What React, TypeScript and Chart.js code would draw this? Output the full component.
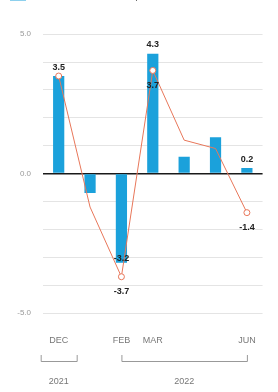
import React, { useEffect, useRef } from 'react';
import { Chart, registerables } from 'chart.js';

Chart.register(...registerables);

const categories = ['DEC', 'JAN', 'FEB', 'MAR', 'APR', 'MAY', 'JUN'];
const shownMonthLabels = ['DEC', 'FEB', 'MAR', 'JUN'];
const actualValues = [3.5, -0.7, -3.2, 4.3, 0.6, 1.3, 0.2];
const forecastValues = [3.5, -1.2, -3.7, 3.7, 1.2, 0.9, -1.4];
const markedPoints = [true, false, true, true, false, false, true];
const barLabels = ['3.5', null, '-3.2', '4.3', null, null, '0.2'];
const lineLabels = [null, null, '-3.7', '3.7', null, null, '-1.4'];
const yTickLabels: Record<string, string> = { '5': '5.0', '0': '0.0', '-5': '-5.0' };
const yearGroups = [
  { label: '2021', from: 0, to: 0 },
  { label: '2022', from: 2, to: 6 },
];
const legendLabels = ['Actual', 'Reuters poll forecast'];

const SHIFT = 20;
const BLUE = '#1ba1db';
const SALMON = '#e8775a';

const labelPlugin = {
  id: 'valueLabels',
  afterDatasetsDraw(chart: any) {
    const ctx = chart.ctx;
    ctx.save();
    ctx.font = 'bold 9px "Liberation Sans", Arial, sans-serif';
    ctx.fillStyle = '#222';
    ctx.textAlign = 'center';
    ctx.textBaseline = 'middle';
    const barMeta = chart.getDatasetMeta(0);
    barLabels.forEach((t, i) => {
      if (!t) return;
      const el = barMeta.data[i];
      const v = actualValues[i];
      const y = v >= 0 ? el.y - 9 : el.y - 4;
      ctx.fillText(t, el.x, y);
    });
    const lineMeta = chart.getDatasetMeta(1);
    lineLabels.forEach((t, i) => {
      if (!t) return;
      const el = lineMeta.data[i];
      ctx.fillText(t, el.x, el.y + 15);
    });
    ctx.restore();
  },
};

const yearPlugin = {
  id: 'yearBrackets',
  afterDraw(chart: any) {
    const ctx = chart.ctx;
    const xs = chart.scales.x;
    const base = 361 + SHIFT;
    ctx.save();
    ctx.strokeStyle = '#999';
    ctx.lineWidth = 1;
    ctx.fillStyle = '#777';
    ctx.font = '9px "Liberation Sans", Arial, sans-serif';
    ctx.textAlign = 'center';
    ctx.textBaseline = 'middle';
    yearGroups.forEach((g) => {
      let x0 = xs.getPixelForValue(g.from);
      let x1 = xs.getPixelForValue(g.to);
      if (g.from === g.to) {
        x0 -= 18;
        x1 += 18;
      }
      ctx.beginPath();
      ctx.moveTo(x0 + 0.5, base - 6);
      ctx.lineTo(x0 + 0.5, base + 0.5);
      ctx.lineTo(x1 + 0.5, base + 0.5);
      ctx.lineTo(x1 + 0.5, base - 6);
      ctx.stroke();
      ctx.fillText(g.label, (x0 + x1) / 2, base + 21);
    });
    ctx.restore();
  },
};

export default function App() {
  const ref = useRef<HTMLCanvasElement | null>(null);
  useEffect(() => {
    if (!ref.current) return;
    const defaultGen = (Chart.defaults.plugins.legend.labels as any).generateLabels;
    const chart = new Chart(ref.current, {
      type: 'bar',
      data: {
        labels: categories,
        datasets: [
          {
            type: 'bar',
            label: legendLabels[0],
            data: actualValues,
            backgroundColor: BLUE,
            barPercentage: 0.65,
            categoryPercentage: 0.55,
            order: 2,
          } as any,
          {
            type: 'line',
            label: legendLabels[1],
            data: forecastValues,
            borderColor: SALMON,
            borderWidth: 1,
            backgroundColor: '#fff',
            pointStyle: 'circle',
            pointBackgroundColor: '#fff',
            pointBorderColor: SALMON,
            pointBorderWidth: 1,
            pointRadius: markedPoints.map((m) => (m ? 3 : 0)),
            tension: 0,
            order: 1,
          } as any,
        ],
      },
      options: {
        animation: false,
        responsive: true,
        maintainAspectRatio: false,
        layout: { padding: { top: 0, right: 0, left: 0, bottom: 0 } },
        plugins: {
          legend: {
            display: true,
            align: 'start',
            weight: 3000,
            labels: {
              usePointStyle: true,
              pointStyleWidth: 16,
              boxWidth: 16,
              boxHeight: 10,
              padding: 10,
              color: '#666',
              font: { size: 11, family: '"Liberation Sans", Arial, sans-serif' },
              sort: (a: any, b: any) => a.datasetIndex - b.datasetIndex,
              generateLabels: (c: any) =>
                defaultGen(c).map((l: any) => ({
                  ...l,
                  pointStyle: l.datasetIndex === 1 ? 'line' : 'rect',
                  strokeStyle: l.datasetIndex === 1 ? SALMON : BLUE,
                  fillStyle: l.datasetIndex === 1 ? SALMON : BLUE,
                  lineWidth: l.datasetIndex === 1 ? 1.5 : 0,
                })),
            },
          } as any,
          title: {
            display: true,
            text: ' ',
            font: { size: 1 },
            padding: { top: 0, bottom: 22 },
          },
          tooltip: { enabled: false },
        },
        scales: {
          x: {
            offset: true,
            grid: { display: false, drawTicks: false },
            border: { display: false },
            ticks: {
              autoSkip: false,
              maxRotation: 0,
              padding: 22,
              color: '#777',
              font: { size: 9, family: '"Liberation Sans", Arial, sans-serif' },
              callback: (_v: any, i: number) =>
                shownMonthLabels.includes(categories[i]) ? categories[i] : '',
            },
            afterFit: (s: any) => {
              s.height = 392 + SHIFT - (313 + SHIFT);
            },
          },
          y: {
            min: -5,
            max: 5,
            border: { display: false },
            grid: {
              drawTicks: false,
              color: (c: any) => (c.tick && c.tick.value === 0 ? '#1a1a1a' : '#e4e4e4'),
              lineWidth: (c: any) => (c.tick && c.tick.value === 0 ? 1.5 : 1),
            },
            ticks: {
              stepSize: 1,
              padding: 12,
              color: '#999',
              font: { size: 8, family: '"Liberation Sans", Arial, sans-serif' },
              callback: (v: any) => yTickLabels[String(v)] ?? '',
            },
            afterFit: (s: any) => {
              s.width = 43;
            },
          },
        },
      },
      plugins: [labelPlugin, yearPlugin],
    });
    return () => chart.destroy();
  }, []);
  return (
    <div style={{ position: 'fixed', left: 0, top: -SHIFT, width: 278, height: 392 + SHIFT, background: '#fff' }}>
      <canvas ref={ref} />
    </div>
  );
}
